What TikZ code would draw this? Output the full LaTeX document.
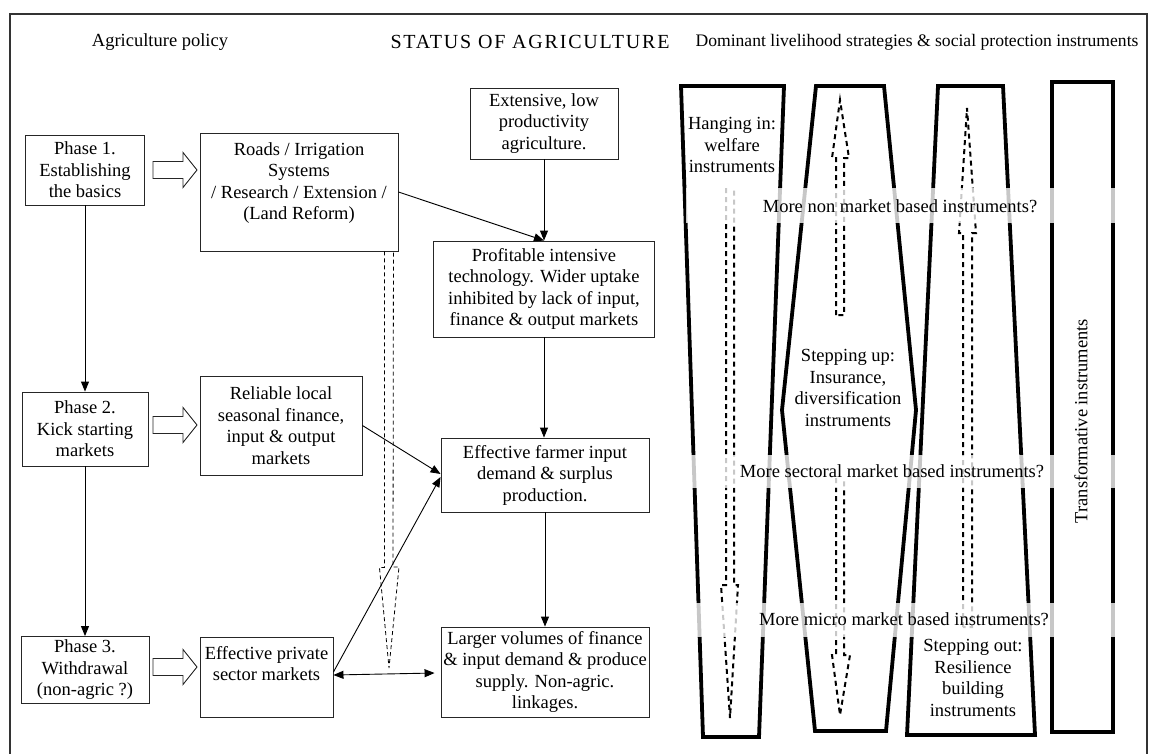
\documentclass[tikz,border=0pt]{standalone}
\usepackage{fontspec}
\setmainfont{Liberation Serif}
\usetikzlibrary{arrows.meta,calc}
\tikzstyle{box}=[draw=black!85,line width=0.9pt,align=center,inner sep=0pt]
\tikzstyle{link}=[draw,line width=0.9pt,-{Triangle[length=10pt,width=8pt]}]
\tikzstyle{twoway}=[draw,line width=0.9pt,{Triangle[length=10pt,width=8pt]}-{Triangle[length=10pt,width=8pt]}]
\tikzstyle{fat}=[draw=black!85,line width=0.9pt,fill=white]
\tikzstyle{lane}=[draw,line width=3.8pt,line join=miter]
\tikzstyle{hollow}=[draw,line width=2pt,dash pattern=on 5pt off 4pt]
\tikzstyle{thinhollow}=[draw,line width=0.8pt,dash pattern=on 4pt off 3pt]
\tikzstyle{band}=[fill=white,opacity=0.78]
\newcommand{\blockarrow}[1]{\draw[fat] (#1) ++(0,-8.5) -- ++(30,0) -- ++(0,-9)
  -- ++(14,17.5) -- ++(-14,17.5) -- ++(0,-9) -- ++(-30,0) -- cycle;}
\begin{document}
\begin{tikzpicture}[x=1pt,y=-1pt,font=\fontsize{18.5}{21.5}\selectfont]
\useasboundingbox (0,0) rectangle (1155,753);
\draw[black!80,line width=1.5pt] (10,14) rectangle (1147,765);

% headings
\node (hpol) at (160,42) {Agriculture policy};
\node[font=\fontsize{20}{24}\selectfont\addfontfeatures{LetterSpace=9}] (hstat) at (530,42) {STATUS OF AGRICULTURE};
\node[font=\fontsize{17.6}{21}\selectfont] (hdom) at (917,42) {Dominant livelihood strategies \& social protection instruments};

% policy phases
\node[box,minimum width=119pt,minimum height=70pt] (p1) at (85,170) {Phase 1.\\Establishing\\the basics};
\node[box,minimum width=126pt,minimum height=74pt] (p2) at (85,429) {Phase 2.\\Kick starting\\markets};
\node[box,minimum width=128pt,minimum height=67pt] (p3) at (85,670) {Phase 3.\\Withdrawal\\(non-agric ?)};
\draw[link] (p1) -- (p2);
\draw[link] (p2) -- (p3);

\node[box,minimum width=198pt,minimum height=118pt] (roads) at (299,192)
  {Roads / Irrigation\\Systems\\/ Research / Extension /\\(Land Reform)\\\mbox{}};
\node[box,minimum width=162pt,minimum height=99pt] (relia) at (281,425.5)
  {Reliable local\\seasonal finance,\\input \& output\\markets};
\node[box,minimum width=133pt,minimum height=80pt] (priv) at (266.5,677)
  {Effective private\\sector markets\\[6pt]\mbox{}};

\coordinate (a1) at (153,170);
\coordinate (a2) at (153,425);
\coordinate (a3) at (153,667);
\blockarrow{a1}
\blockarrow{a2}
\blockarrow{a3}

% status of agriculture
\node[box,minimum width=148pt,minimum height=71pt] (ext) at (544,123.5)
  {Extensive, low\\productivity\\agriculture.};
\node[box,minimum width=221pt,minimum height=96pt] (prof) at (544,289)
  {Profitable intensive\\technology. Wider uptake\\inhibited by lack of input,\\finance \& output markets};
\node[box,minimum width=208pt,minimum height=74pt] (farm) at (545,475)
  {Effective farmer input\\demand \& surplus\\production.};
\node[box,minimum width=208pt,minimum height=90pt] (large) at (545,672)
  {Larger volumes of finance\\\& input demand \& produce\\supply. Non-agric.\\linkages.};

\draw[link] (ext.south) -- (ext.south |- prof.north);
\draw[link] (roads.east) -- (prof.north);
\draw[link] (prof.south) -- (prof.south |- farm.north);
\draw[link] (farm.south) -- (farm.south |- large.north);
\draw[link] (relia.east) -- ([yshift=1pt]farm.west);
\draw[link] ([yshift=5pt]priv.east) -- ([yshift=-2pt]farm.west);
\draw[twoway] ([yshift=2pt]priv.east) -- ([xshift=-6pt,yshift=-1pt]large.west);

% dashed hollow arrow below the roads box
\coordinate (dtip) at (389,668);
\draw[thinhollow] ($(roads.south east)+(-14,0)$) -- ++(0,316) -- ++(-5,0) -- (dtip)
  -- (399,567) -- (393,567) -- ($(roads.south east)+(-5,0)$);

% livelihood strategies
\draw[lane] (681,86) -- (784,86) -- (759,737) -- (703,737) -- cycle;
\draw[lane] (816,86) -- (884,86) -- (916,410) -- (886,731) -- (815,731) -- (782,410) -- cycle;
\draw[lane] (938,86) -- (1003,86) -- (1035,735) -- (907,735) -- cycle;
\draw[lane] (1052,82) rectangle (1113,732);

\draw[hollow] (726,188) -- (726,585) -- (721,585) -- (730,718) -- (738,585) -- (734,585) -- (734,188);
\draw[hollow] (836,315) -- (836,158) -- (832,158) -- (840,100) -- (849,158) -- (844,158) -- (844,315) -- cycle;
\draw[hollow] (836,478) -- (836,655) -- (832,655) -- (840,715) -- (850,655) -- (844,655) -- (844,478);
\draw[hollow] (963,627) -- (963,233) -- (959,233) -- (967,108) -- (976,233) -- (972,233) -- (972,627) -- cycle;

\node[align=center] (hang) at (732,145) {Hanging in:\\welfare\\instruments};
\node[align=center] (up) at (848,388) {Stepping up:\\Insurance,\\diversification\\instruments};
\node[align=center] (out) at (973,678) {Stepping out:\\Resilience\\building\\instruments};

% market bands
\fill[band] (686,188) rectangle (1116,223);
\fill[band] (686,455) rectangle (1116,488);
\fill[band] (686,603) rectangle (1116,637);
\node (nonm) at (900,206) {More non market based instruments?};
\node (sect) at (892,471) {More sectoral market based instruments?};
\node (micro) at (904,619) {More micro market based instruments?};
\node[rotate=90] (trans) at (1081,421) {Transformative instruments};
\end{tikzpicture}
\end{document}
